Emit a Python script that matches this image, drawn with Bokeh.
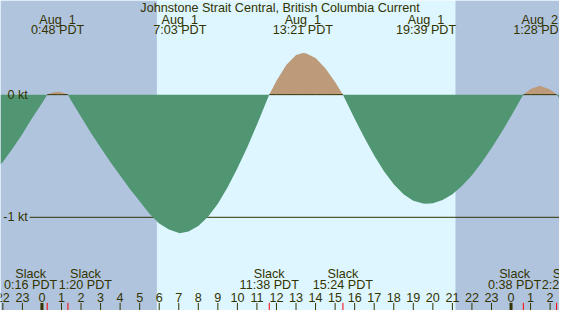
import math
from bokeh.plotting import figure
from bokeh.models import Range1d, ColumnDataSource
from bokeh.core.properties import value
from bokeh.embed import file_html
from bokeh.resources import INLINE

# ---------------- data (hours from Aug 1 00:00 PDT, current in knots) -------------
title = "Johnstone Strait Central, British Columbia Current"

hours = [-2.12, -2.0, -1.5, -1.0, -0.5, 0.0, 0.27, 0.5, 0.8, 1.0, 1.33,
         1.5, 2.0, 2.5, 3.0, 3.5, 4.0, 4.5, 5.0, 5.5, 6.0, 6.5, 7.05,
         7.5, 8.0, 8.5, 9.0, 9.5, 10.0, 10.5, 11.0, 11.5, 11.63,
         12.0, 12.5, 13.0, 13.35, 13.5, 14.0, 14.5, 15.0, 15.4,
         15.5, 16.0, 16.5, 17.0, 17.5, 18.0, 18.5, 19.0, 19.5, 19.65,
         20.0, 20.5, 21.0, 21.5, 22.0, 22.5, 23.0, 23.5, 24.0, 24.5, 24.63,
         25.0, 25.47, 26.0, 26.34, 26.48]
knots = [-0.57, -0.55, -0.44, -0.32, -0.19, -0.07, 0.0, 0.015, 0.023, 0.019, 0.0,
         -0.05, -0.18, -0.31, -0.43, -0.55, -0.66, -0.77, -0.87, -0.97, -1.05, -1.10, -1.13,
         -1.115, -1.07, -0.995, -0.89, -0.755, -0.60, -0.43, -0.245, -0.05, 0.0,
         0.113, 0.242, 0.323, 0.34, 0.338, 0.299, 0.216, 0.103, 0.0,
         -0.033, -0.196, -0.352, -0.496, -0.624, -0.730, -0.811, -0.864, -0.888, -0.89,
         -0.885, -0.858, -0.811, -0.742, -0.657, -0.554, -0.438, -0.310, -0.176, -0.036, 0.0,
         0.046, 0.072, 0.041, 0.0, -0.03]

extreme_hours = [0.80, 7.05, 13.35, 19.65, 25.47]
extreme_dates = ["Aug \u00a01", "Aug \u00a01", "Aug \u00a01", "Aug \u00a01", "Aug \u00a02"]
extreme_times = ["0:48 PDT", "7:03 PDT", "13:21 PDT", "19:39 PDT", "1:28 PDT"]

slack_hours = [0.27, 1.33, 11.63, 15.40, 24.63, 26.33]
slack_times = ["0:16 PDT", "1:20 PDT", "11:38 PDT", "15:24 PDT", "0:38 PDT", "2:20 PDT"]

sunrise_hour = 5.88
sunset_hour = 21.16

hour_ticks = list(range(-2, 27))
level_values = [0, -1]
level_labels = ["0 kt", "-1 kt"]

# ---------------- layout / style ----------------
W, H = 559, 310
REF_W, REF_H = 575, 326
X0, X1 = -2.12, 26.48
Y0_PX, PX_PER_KT = 99.0, 129.0


def ry(ypx):
    return (Y0_PX - ypx) / PX_PER_KT


def rx(xpx):
    return X0 + xpx * (X1 - X0) / REF_W


Y_TOP, Y_BOT = ry(0), ry(REF_H)
sx = W / REF_W
FONT = value("Liberation Sans")
FS = "12.6px"
TXT = "#333300"
DAY = "#DDF6FF"
NIGHT = "#B0C4DE"
FLOOD = "#BD9A79"
EBB = "#509672"

p = figure(width=W, height=H, output_backend="svg", toolbar_location=None,
           x_range=Range1d(X0, X1), y_range=Range1d(Y_BOT, Y_TOP),
           min_border=0, min_border_left=0, min_border_right=0,
           min_border_top=0, min_border_bottom=0)
p.axis.visible = False
p.grid.visible = False
p.outline_line_color = None
p.background_fill_color = DAY
p.border_fill_color = DAY

# night shading
p.quad(left=[X0, sunset_hour], right=[sunrise_hour, X1],
       bottom=[Y_BOT, Y_BOT], top=[Y_TOP, Y_TOP], fill_color=NIGHT, line_color=None)

# -1 kt reference line (under the fill)
for lv, lab in zip(level_values, level_labels):
    if lv != 0:
        p.line([rx(30), X1], [lv, lv], line_color=TXT, line_width=1)

ebb_low = [min(v, 0.0) for v in knots]
flood_high = [max(v, 0.0) for v in knots]
zeros = [0.0] * len(knots)
p.varea(x=hours, y1=ebb_low, y2=zeros, fill_color=EBB)
p.varea(x=hours, y1=zeros, y2=flood_high, fill_color=FLOOD)

# zero line visible only under flood
zl = []
for i, v in enumerate(knots):
    near = v > 0 or (i > 0 and knots[i - 1] > 0) or (i < len(knots) - 1 and knots[i + 1] > 0)
    zl.append(0.0 if near else float("nan"))
p.line(hours, zl, line_color=TXT, line_width=1)

# level labels
p.text(x=[rx(28)] * len(level_values), y=level_values, text=level_labels,
       text_align="right", text_baseline="middle", text_color=TXT,
       text_font=FONT, text_font_size=FS)

# title
p.text(x=[(X0 + X1) / 2], y=[ry(7.5)], text=[title], text_align="center",
       text_baseline="middle", text_color=TXT, text_font=FONT, text_font_size=FS)

# extremes
p.text(x=extreme_hours, y=[ry(20)] * len(extreme_hours), text=extreme_dates,
       text_align="center", text_baseline="middle", text_color=TXT,
       text_font=FONT, text_font_size=FS)
p.text(x=extreme_hours, y=[ry(31.5)] * len(extreme_hours), text=extreme_times,
       text_align="center", text_baseline="middle", text_color=TXT,
       text_font=FONT, text_font_size=FS)

# slack labels (nudged apart where crowded)
slack_offsets = [-17 * sx, 18 * sx, 0, 0, -9 * sx, 12 * sx]
src_s = ColumnDataSource(dict(x=slack_hours, y1=[ry(287.5)] * len(slack_hours),
                              y2=[ry(299)] * len(slack_hours),
                              t1=["Slack"] * len(slack_hours), t2=slack_times,
                              off=slack_offsets))
p.text(x="x", y="y1", text="t1", x_offset="off", source=src_s, text_align="center",
       text_baseline="middle", text_color=TXT, text_font=FONT, text_font_size=FS)
p.text(x="x", y="y2", text="t2", x_offset="off", source=src_s, text_align="center",
       text_baseline="middle", text_color=TXT, text_font=FONT, text_font_size=FS)

# hour labels and ticks
p.text(x=hour_ticks, y=[ry(312)] * len(hour_ticks), text=[str(h % 24) for h in hour_ticks],
       text_align="center", text_baseline="middle", text_color=TXT,
       text_font=FONT, text_font_size=FS)
reg = [h for h in hour_ticks if h % 24 != 0]
mid = [h for h in hour_ticks if h % 24 == 0]
p.segment(x0=reg, x1=reg, y0=[ry(318)] * len(reg), y1=[Y_BOT] * len(reg),
          line_color=TXT, line_width=1)
p.segment(x0=mid, x1=mid, y0=[ry(318)] * len(mid), y1=[Y_BOT] * len(mid),
          line_color=TXT, line_width=3)
p.segment(x0=slack_hours, x1=slack_hours, y0=[ry(318)] * len(slack_hours),
          y1=[Y_BOT] * len(slack_hours), line_color="red", line_width=1)

open("out.html", "w").write(file_html(p, INLINE))
